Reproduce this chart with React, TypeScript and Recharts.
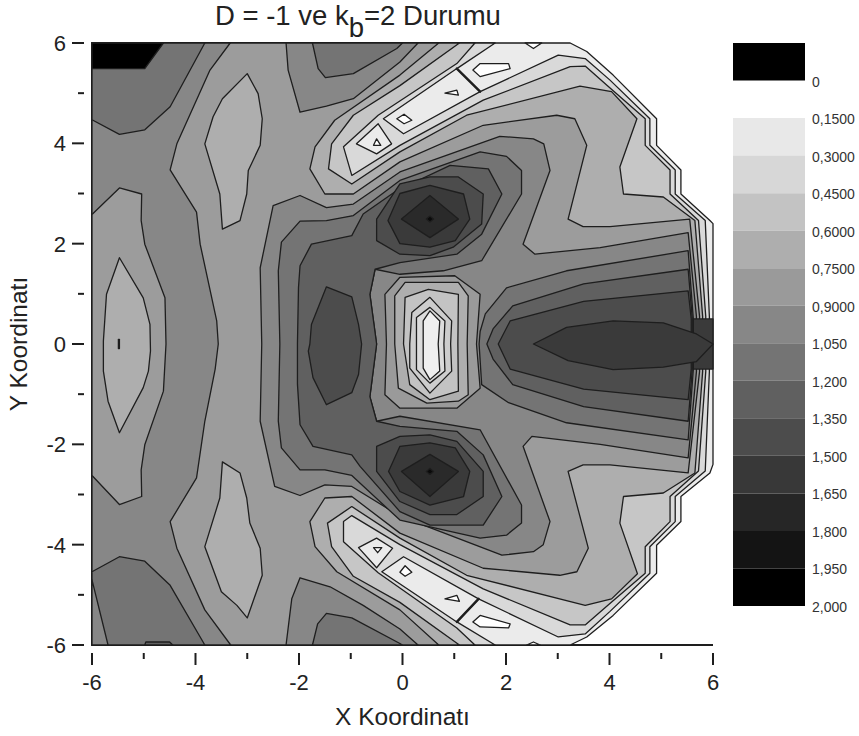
import { Bar, BarChart, Scatter, ScatterChart, XAxis, YAxis } from "recharts";

type Pt = [number, number];

const FONT = "'Liberation Sans', Arial, sans-serif";
const LINE = "#1e1e1e";

const axisTicks = [-6, -5, -4, -3, -2, -1, 0, 1, 2, 3, 4, 5, 6];

// contour outlines, in x / y coordinates
const domainEdge: Pt[] = [[-6, 6], [3.24, 6], [3.56, 5.83], [4.07, 5.36], [4.91, 4.49], [4.91, 3.96], [5.38, 3.47], [5.38, 2.99], [5.94, 2.46], [6, 2.4], [6, -2.4], [5.94, -2.57], [5.38, -3.04], [5.38, -3.54], [4.91, -4.01], [4.91, -4.57], [4.07, -5.41], [3.56, -5.84], [3.24, -6], [-6, -6]];
const outsideStrip: Pt[] = [[-6, 6], [1.79, 6], [1.05, 5.49], [1.5, 5.03], [3.01, 5.76], [3.53, 5.69], [4.01, 5.26], [4.78, 4.49], [4.78, 3.96], [5.27, 3.47], [5.27, 2.99], [5.85, 2.46], [5.93, 0.55], [5.93, -0.55], [5.85, -2.53], [5.27, -3.04], [5.27, -3.54], [4.78, -4.04], [4.78, -4.57], [4.01, -5.33], [3.53, -5.78], [3.01, -5.84], [1.47, -5.08], [1.05, -5.54], [1.79, -6], [-6, -6]];
const stripTop: Pt[] = [[-0.37, 4.49], [0.02, 4.19], [1.5, 5.03], [1.05, 5.49]];
const stripBottom: Pt[] = [[0.02, -4.24], [1.47, -5.08], [1.05, -5.54], [-0.4, -4.54]];
const tipTop: Pt[] = [[-0.47, 4.39], [-0.21, 3.99], [-0.5, 3.79], [-0.89, 3.99]];
const tipBottom: Pt[] = [[-0.85, -4.06], [-0.5, -3.87], [-0.19, -4.07], [-0.5, -4.46]];
const whiteSpots: Pt[][] = [
  [[-0.5, 4.09], [-0.42, 3.96], [-0.56, 3.96]],
  [[0.03, 4.58], [0.18, 4.46], [0.03, 4.39], [-0.11, 4.49]],
  [[1.05, 5.06], [1.08, 4.96], [0.82, 5.0]],
  [[1.5, 5.59], [2.05, 5.59], [2.08, 5.49], [1.5, 5.33], [1.36, 5.46]],
  [[2.37, 6], [2.53, 5.89], [2.69, 6]],
  [[-0.56, -4.06], [-0.4, -4.06], [-0.48, -4.16]],
  [[-0.05, -4.55], [0.05, -4.42], [0.18, -4.55], [0.05, -4.63]],
  [[0.82, -5.08], [1.05, -5.01], [1.1, -5.13]],
  [[1.5, -5.41], [2.08, -5.58], [2.05, -5.66], [1.5, -5.64], [1.36, -5.54]],
  [[2.4, -6], [2.53, -5.94], [2.66, -6]],
];
const outsideL3: Pt[] = [[-6, 6], [1.4, 6], [1.05, 5.59], [-0.47, 4.56], [-1.14, 3.93], [-0.98, 3.36], [-0.05, 3.96], [1.56, 4.86], [3.24, 5.53], [3.53, 5.54], [3.95, 5.16], [4.69, 4.49], [4.69, 3.96], [5.17, 3.47], [5.17, 2.99], [5.72, 2.46], [5.86, 0.55], [5.86, -0.55], [5.72, -2.53], [5.17, -3.04], [5.17, -3.54], [4.69, -4.04], [4.69, -4.57], [3.98, -5.2], [3.53, -5.6], [3.24, -5.6], [1.56, -4.88], [-0.05, -4.0], [-0.98, -3.42], [-1.14, -3.54], [-1.14, -3.94], [-0.47, -4.56], [1.05, -5.66], [1.4, -6], [-6, -6]];
const outsideL2: Pt[] = [[-6, 6], [1.1, 6], [-0.05, 5.15], [-0.95, 4.56], [-1.37, 3.99], [-1.43, 3.49], [-0.98, 3.19], [-0.05, 3.83], [1.24, 4.56], [3.43, 5.14], [4.04, 5.03], [4.53, 4.49], [4.2, 3.53], [4.27, 2.99], [5.04, 2.93], [5.65, 2.46], [5.8, 0.55], [5.8, -0.55], [5.65, -2.57], [5.04, -2.97], [4.27, -3.04], [4.2, -3.57], [4.54, -4.58], [4.04, -5.08], [3.53, -5.21], [1.24, -4.61], [-0.05, -3.87], [-0.98, -3.24], [-1.45, -3.57], [-1.37, -4.04], [-0.95, -4.63], [-0.05, -5.15], [1.1, -6], [-6, -6]];
const outsideL1: Pt[] = [[-6, 6], [0.7, 6], [-0.05, 5.36], [-1.31, 4.46], [-1.69, 3.93], [-1.79, 3.49], [-1.5, 2.99], [-0.95, 2.99], [-0.05, 3.63], [1.56, 4.36], [2.98, 4.56], [3.33, 4.49], [3.56, 3.96], [3.2, 2.49], [3.49, 2.34], [4.01, 2.34], [5.55, 2.49], [5.74, 0.55], [5.74, -0.55], [5.52, -2.57], [4.01, -2.41], [3.49, -2.41], [3.2, -2.54], [3.59, -4.07], [3.37, -4.54], [3.04, -4.61], [1.56, -4.47], [-0.05, -3.77], [-0.98, -3.04], [-1.5, -3.07], [-1.79, -3.54], [-1.69, -4.04], [-1.27, -4.54], [-0.05, -5.3], [0.7, -6], [-6, -6]];
const ovalTop: Pt[] = [[-3, 5.39], [-2.79, 4.99], [-2.71, 4.49], [-2.75, 3.96], [-2.98, 3.46], [-3.01, 2.99], [-3.14, 2.46], [-3.48, 2.29], [-3.53, 2.99], [-3.82, 3.99], [-3.66, 4.53], [-3.48, 4.89]];
const ovalBottom: Pt[] = [[-3, -5.46], [-2.71, -4.61], [-2.75, -4.07], [-2.95, -3.57], [-3.01, -3.07], [-3.14, -2.57], [-3.48, -2.35], [-3.53, -3.07], [-3.82, -4.04], [-3.5, -4.94], [-3.2, -5.21]];
const leftField: Pt[] = [[-6, 6], [-3.33, 6], [-3.72, 5.46], [-4.36, 3.99], [-4.49, 3.47], [-3.98, 2.63], [-3.91, 1.99], [-3.59, 0.46], [-3.56, 0], [-3.62, -0.5], [-3.82, -1.54], [-3.98, -2.67], [-4.49, -3.54], [-4.36, -4.07], [-3.82, -5.3], [-3.32, -6], [-6, -6]];
const leftLens: Pt[] = [[-6, 2.58], [-5.47, 3.11], [-5.04, 2.99], [-5.05, 2.46], [-4.98, 1.99], [-4.59, 0.92], [-4.57, 0], [-4.62, -0.94], [-4.98, -2.01], [-5.05, -2.51], [-5.04, -3.04], [-5.47, -3.2], [-6, -2.62]];
const leftOval: Pt[] = [[-5.47, 1.72], [-5.01, 0.92], [-4.88, 0.39], [-4.87, -0.14], [-4.91, -0.54], [-5.01, -0.87], [-5.47, -1.77], [-5.69, -1.14], [-5.78, -0.54], [-5.78, 0.06], [-5.72, 0.99]];
const leftDash: Pt[] = [[-5.49, 0.09], [-5.47, 0.09], [-5.47, -0.09], [-5.49, -0.09]];
const cornerTop: Pt[] = [[-6, 6], [-3.82, 6], [-4.49, 4.73], [-4.98, 4.27], [-5.47, 4.18], [-6, 4.47]];
const cornerBlack: Pt[] = [[-6, 6], [-4.62, 6], [-4.98, 5.49], [-6, 5.49]];
const cornerBottom: Pt[] = [[-6, -4.54], [-5.47, -4.24], [-4.98, -4.33], [-4.49, -4.81], [-3.82, -6], [-6, -6]];
const cornerSliver: Pt[] = [[-6, -4.7], [-5.69, -6], [-6, -6]];
const bottomBox: Pt[] = [[-4.98, -6], [-4.96, -5.94], [-4.5, -5.94], [-4.44, -6]];
const topField: Pt[] = [[-2.25, 6], [-2.21, 5.46], [-1.98, 4.62], [-1.47, 4.74], [-0.95, 4.89], [-0.05, 5.62], [0.3, 6]];
const topInner: Pt[] = [[-1.74, 6], [-1.63, 5.49], [-1.49, 5.31], [-0.95, 5.39], [-0.11, 5.89], [0, 6]];
const bottomField: Pt[] = [[-2.25, -6], [-2.14, -5.08], [-1.98, -4.66], [-1.4, -4.84], [-0.76, -5.21], [-0.05, -5.68], [0.3, -6]];
const bottomInner: Pt[] = [[-1.74, -6], [-1.64, -5.58], [-1.47, -5.37], [-0.98, -5.46], [-0.05, -5.97], [0, -6]];
const centerField: Pt[] = [[-2.72, 0], [-2.75, 1.52], [-2.5, 2.76], [-1.98, 2.96], [-1.47, 2.72], [-0.95, 2.79], [-0.05, 3.43], [1.88, 4.14], [2.53, 4.09], [2.73, 3.99], [2.85, 3.46], [2.33, 1.99], [2.56, 1.79], [3.82, 1.92], [5.52, 2.22], [5.68, 0.55], [5.68, -0.55], [5.52, -2.27], [3.82, -2.0], [2.5, -1.84], [2.33, -2.04], [2.85, -3.54], [2.72, -4.0], [2.53, -4.14], [1.92, -4.21], [-0.05, -3.43], [-0.98, -2.84], [-1.5, -2.81], [-1.98, -3.02], [-2.47, -2.84], [-2.75, -1.54]];
const darkBox: Pt[] = [[5.56, 0.5], [6, 0.5], [6, -0.5], [5.56, -0.5]];
const rightA: Pt[] = [[5.62, 0.5], [5.52, 1.86], [3.17, 1.46], [2.01, 1.12], [1.6, 0.6], [1.5, 0.25], [1.48, 0], [1.53, -0.81], [2.05, -1.17], [3.17, -1.57], [5.52, -1.91], [5.62, -0.5]];
const rightB: Pt[] = [[5.6, 0.5], [5.52, 1.49], [3.5, 1.2], [2.13, 0.76], [1.75, 0.3], [1.63, 0], [1.75, -0.3], [2.13, -0.81], [3.5, -1.25], [5.52, -1.54], [5.6, -0.5]];
const rightC: Pt[] = [[5.58, 0.5], [5.52, 1.06], [3.5, 0.85], [2.08, 0.46], [1.85, 0], [2.08, -0.5], [3.5, -0.9], [5.52, -1.11], [5.58, -0.5]];
const rightCore: Pt[] = [[2.53, 0], [3.17, 0.33], [4.07, 0.46], [5.04, 0.42], [5.68, 0.2], [6, 0], [5.68, -0.35], [5.04, -0.46], [4.07, -0.51], [3.2, -0.33]];
const armOuter: Pt[] = [[-2.37, 0], [-2.4, 1.46], [-2.34, 2.03], [-1.98, 2.45], [-1.47, 2.46], [-0.95, 2.56], [-0.05, 3.26], [1.5, 3.83], [2.01, 3.74], [2.3, 3.46], [2.3, 2.99], [1.53, 1.66], [0.79, 1.46], [-0.05, 1.39], [-0.53, 1.49], [-0.63, 0.99], [-0.5, 0], [-0.63, -1.05], [-0.5, -1.54], [-0.05, -1.44], [1.5, -1.71], [2.3, -3.21], [2.3, -3.57], [2.01, -3.81], [1.5, -3.87], [-0.05, -3.51], [-0.98, -2.62], [-1.5, -2.51], [-1.98, -2.51], [-2.34, -2.07], [-2.4, -1.54]];
const armInner: Pt[] = [[-2.03, 0], [-2.01, 1.12], [-1.98, 1.56], [-1.76, 1.99], [-0.98, 2.16], [-0.76, 2.59], [-0.11, 3.06], [0.92, 3.56], [1.66, 3.49], [1.92, 2.99], [1.53, 2.19], [1.05, 1.79], [-0.05, 1.62], [-0.53, 1.49], [-0.63, 0.99], [-0.5, 0], [-0.63, -1.05], [-0.5, -1.54], [-0.05, -1.64], [1.05, -1.74], [1.56, -2.21], [1.92, -3.04], [1.56, -3.61], [0.53, -3.61], [-0.05, -3.34], [-0.82, -2.44], [-0.98, -2.21], [-1.73, -2.04], [-1.98, -1.61], [-2.03, -0.8]];
const armOval: Pt[] = [[-1.79, 0], [-1.76, 0.39], [-1.47, 1.14], [-0.98, 0.94], [-0.85, 0.39], [-0.79, 0], [-0.85, -0.61], [-0.98, -0.97], [-1.47, -1.21], [-1.73, -0.67], [-1.82, -0.14]];
const wellTop3: Pt[] = [[-0.5, 2.49], [-0.5, 2.06], [-0.05, 1.79], [0.53, 1.76], [0.98, 1.93], [1.53, 2.39], [1.56, 2.99], [1.08, 3.33], [0.53, 3.33], [-0.05, 3.19]];
const wellTop2: Pt[] = [[-0.28, 2.46], [-0.05, 2.0], [0.53, 1.93], [1.02, 2.06], [1.3, 2.49], [1.18, 2.99], [0.53, 3.16], [-0.05, 3.0]];
const wellTop1: Pt[] = [[0.53, 2.96], [1.08, 2.49], [0.53, 2.12], [-0.02, 2.49]];
const wellTopDot: Pt[] = [[0.46, 2.49], [0.53, 2.55], [0.6, 2.49], [0.53, 2.43]];
const wellBottom3: Pt[] = [[-0.5, -2.04], [-0.5, -2.54], [-0.05, -3.14], [0.53, -3.4], [1.05, -3.4], [1.56, -3.04], [1.56, -2.54], [1.05, -1.94], [0.53, -1.81], [-0.05, -1.84]];
const wellBottom2: Pt[] = [[-0.27, -2.54], [-0.05, -2.04], [0.53, -1.97], [1.02, -2.07], [1.3, -2.54], [1.18, -3.04], [0.53, -3.21], [-0.05, -2.94]];
const wellBottom1: Pt[] = [[0.53, -2.2], [1.08, -2.54], [0.53, -3.04], [-0.02, -2.54]];
const wellBottomDot: Pt[] = [[0.46, -2.54], [0.53, -2.48], [0.6, -2.54], [0.53, -2.6]];
const island1: Pt[] = [[-0.34, 0.99], [-0.05, 1.33], [1.01, 1.36], [1.5, 0.99], [1.43, 0], [1.5, -0.88], [1.05, -1.28], [-0.05, -1.28], [-0.34, -1.01], [-0.31, 0]];
const island2: Pt[] = [[-0.15, 0.96], [0.05, 1.23], [1.08, 1.23], [1.27, 0.96], [1.25, 0], [1.27, -1.01], [1.08, -1.14], [0.47, -1.18], [-0.08, -0.88], [-0.15, 0]];
const island3: Pt[] = [[0.05, 0.93], [0.5, 1.09], [1.08, 0.99], [1.07, 0], [1.08, -0.94], [0.53, -1.11], [0.14, -0.81], [0.02, 0]];
const island4: Pt[] = [[0.18, 0.63], [0.53, 0.93], [0.95, 0.46], [0.93, 0], [0.95, -0.54], [0.53, -0.98], [0.14, -0.48], [0.14, 0]];
const island5: Pt[] = [[0.27, 0.53], [0.53, 0.73], [0.82, 0.46], [0.8, 0], [0.82, -0.54], [0.53, -0.78], [0.27, -0.51], [0.27, 0]];
const island6: Pt[] = [[0.4, 0.46], [0.53, 0.66], [0.72, 0.46], [0.69, 0], [0.72, -0.54], [0.53, -0.71], [0.4, -0.48], [0.4, 0]];
const crossTop: Pt[] = [[1.05, 5.49], [1.5, 5.03]];
const crossBottom: Pt[] = [[1.47, -5.08], [1.05, -5.54]];

// painter's order: every outline is filled over the ones before it
const layers: [Pt[], string][] = [
  [domainEdge, "#ebebeb"],
  [outsideStrip, "#d9d9d9"],
  [stripTop, "#ebebeb"],
  [stripBottom, "#ebebeb"],
  [tipTop, "#ebebeb"],
  [tipBottom, "#ebebeb"],
  ...whiteSpots.map((s): [Pt[], string] => [s, "#ffffff"]),
  [outsideL3, "#c6c6c6"],
  [outsideL2, "#aeaeae"],
  [outsideL1, "#9c9c9c"],
  [ovalTop, "#aeaeae"],
  [ovalBottom, "#aeaeae"],
  [leftField, "#878787"],
  [leftLens, "#9c9c9c"],
  [leftOval, "#aeaeae"],
  [leftDash, "#222222"],
  [cornerTop, "#747474"],
  [cornerBlack, "#000000"],
  [cornerBottom, "#747474"],
  [cornerSliver, "#878787"],
  [bottomBox, "#606060"],
  [topField, "#878787"],
  [topInner, "#747474"],
  [bottomField, "#878787"],
  [bottomInner, "#747474"],
  [centerField, "#878787"],
  [darkBox, "#3a3a3a"],
  [rightA, "#747474"],
  [rightB, "#606060"],
  [rightC, "#4c4c4c"],
  [rightCore, "#3a3a3a"],
  [armOuter, "#747474"],
  [armInner, "#606060"],
  [armOval, "#4c4c4c"],
  [wellTop3, "#4c4c4c"],
  [wellTop2, "#3a3a3a"],
  [wellTop1, "#2a2a2a"],
  [wellTopDot, "#0a0a0a"],
  [wellBottom3, "#4c4c4c"],
  [wellBottom2, "#3a3a3a"],
  [wellBottom1, "#2a2a2a"],
  [wellBottomDot, "#0a0a0a"],
  [island1, "#9a9a9a"],
  [island2, "#aeaeae"],
  [island3, "#c3c3c3"],
  [island4, "#cdcdcd"],
  [island5, "#dcdcdc"],
  [island6, "#efefef"],
];

const legendLabels = ["0", "0,1500", "0,3000", "0,4500", "0,6000", "0,7500", "0,9000", "1,050", "1,200", "1,350", "1,500", "1,650", "1,800", "1,950", "2,000"];
const legendColors = ["#000000", "transparent", "#e8e8e8", "#d7d7d7", "#c3c3c3", "#aeaeae", "#9a9a9a", "#878787", "#747474", "#606060", "#4c4c4c", "#383838", "#262626", "#141414", "#000000"];
const legendTicks = [1, 2, 3, 4, 5, 6, 7, 8, 9, 10, 11, 12, 13, 14, 15];
const legendRow: Record<string, number | string> = { name: "scale" };
legendColors.forEach((_, i) => {
  legendRow[`band${i}`] = 1;
});

function closedOutline(fill: string, width: number) {
  return (props: any) => {
    const pts: { x: number; y: number }[] = props.points;
    const d = pts.map((p, i) => `${i ? "L" : "M"}${p.x},${p.y}`).join(" ") + " Z";
    return <path d={d} fill={fill} stroke={LINE} strokeWidth={width} strokeLinejoin="round" />;
  };
}

function toRows(pts: Pt[]) {
  return pts.map(([x, y]) => ({ x, y }));
}

function XTick({ x, y, payload }: any) {
  const major = payload.value % 2 === 0;
  return (
    <g>
      <line x1={x} x2={x} y1={y} y2={y + (major ? 12 : 6)} stroke={LINE} strokeWidth={2} />
      {major && (
        <text x={x} y={y + 37} textAnchor="middle" fontSize={22} fontFamily={FONT} fill="#222">
          {payload.value}
        </text>
      )}
    </g>
  );
}

function YTick({ x, y, payload }: any) {
  const major = payload.value % 2 === 0;
  return (
    <g>
      <line x1={x} x2={x - (major ? 12 : 6)} y1={y} y2={y} stroke={LINE} strokeWidth={2} />
      {major && (
        <text x={x - 18} y={y + 8} textAnchor="end" fontSize={22} fontFamily={FONT} fill="#222">
          {payload.value}
        </text>
      )}
    </g>
  );
}

export default function App() {
  return (
    <div style={{ position: "absolute", left: 0, top: 0, width: 859, height: 736, background: "#fff" }}>
      <div style={{ position: "absolute", left: 215, top: 1, fontFamily: FONT, fontSize: 27.5, color: "#222", whiteSpace: "nowrap", lineHeight: "30px" }}>
        D = -1 ve k
        <span style={{ position: "relative", top: 12 }}>b</span>
        =2 Durumu
      </div>
      <div style={{ position: "absolute", left: 0, top: 0 }}>
        <ScatterChart width={859} height={736} margin={{ top: 43, right: 146, bottom: 0, left: 0 }}>
          <XAxis
            dataKey="x"
            type="number"
            domain={[-6, 6]}
            ticks={axisTicks}
            interval={0}
            height={91}
            stroke={LINE}
            strokeWidth={2}
            tickLine={false}
            tick={<XTick />}
            label={{ value: "X Koordinatı", position: "insideBottom", offset: 11, fontSize: 24.5, fontFamily: FONT, fill: "#222" }}
          />
          <YAxis
            dataKey="y"
            type="number"
            domain={[-6, 6]}
            ticks={axisTicks}
            interval={0}
            width={92}
            stroke={LINE}
            strokeWidth={2}
            tickLine={false}
            tick={<YTick />}
            label={{ value: "Y Koordinatı", angle: -90, position: "insideLeft", offset: 18, fontSize: 24.5, fontFamily: FONT, fill: "#222", style: { textAnchor: "middle" } }}
          />
          {layers.map(([pts, fill], i) => (
            <Scatter
              key={i}
              data={toRows(pts)}
              line={closedOutline(fill, 1.3)}
              shape={() => null}
              isAnimationActive={false}
              legendType="none"
            />
          ))}
          <Scatter data={toRows(crossTop)} line={closedOutline("none", 2.4)} shape={() => null} isAnimationActive={false} legendType="none" />
          <Scatter data={toRows(crossBottom)} line={closedOutline("none", 2.4)} shape={() => null} isAnimationActive={false} legendType="none" />
          <XAxis xAxisId="top" orientation="top" type="number" dataKey="x" domain={[-6, 6]} height={0} tick={false} tickLine={false} stroke={LINE} strokeWidth={2} />
          <YAxis yAxisId="right" orientation="right" type="number" dataKey="y" domain={[-6, 6]} width={0} tick={false} tickLine={false} stroke={LINE} strokeWidth={3} />
        </ScatterChart>
      </div>
      <div style={{ position: "absolute", left: 733, top: 43 }}>
        <BarChart width={126} height={583} data={[legendRow]} margin={{ top: 0, right: 0, bottom: 20, left: 0 }} barCategoryGap={0}>
          <XAxis dataKey="name" hide />
          <YAxis
            orientation="right"
            type="number"
            domain={[0, 15]}
            reversed
            ticks={legendTicks}
            interval={0}
            tickFormatter={(v: number) => legendLabels[v - 1]}
            width={54}
            axisLine={false}
            tickLine={false}
            tickMargin={1}
            tick={{ fontSize: 14, fontFamily: FONT, fill: "#333", dy: 1 }}
          />
          {legendColors.map((c, i) => (
            <Bar key={i} dataKey={`band${i}`} stackId="scale" fill={c} isAnimationActive={false} />
          ))}
        </BarChart>
      </div>
    </div>
  );
}
